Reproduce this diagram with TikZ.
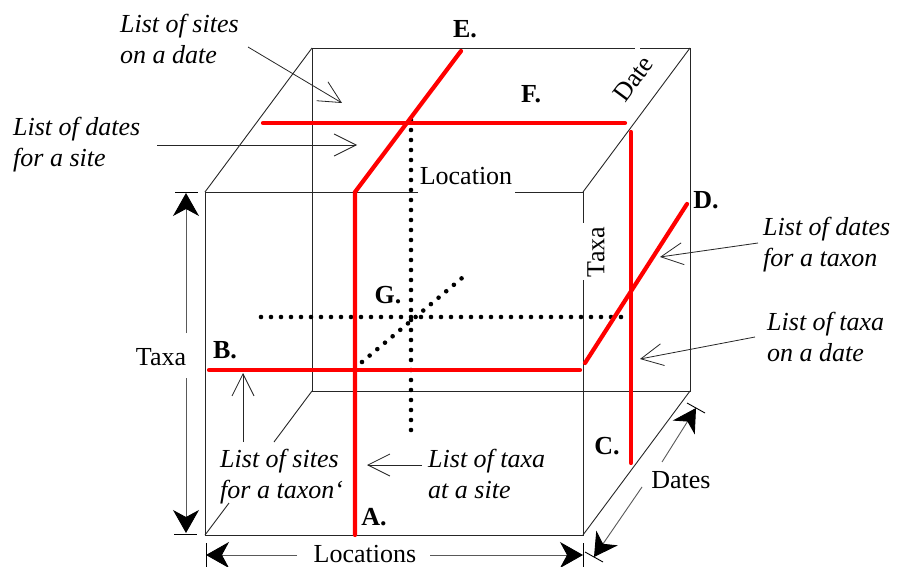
\documentclass[tikz,border=0pt]{standalone}
\usepackage{fontspec}
\setmainfont{Liberation Serif}
\usetikzlibrary{arrows.meta}
\begin{document}
\begin{tikzpicture}[x=1pt,y=-1pt,
  edge/.style={line width=0.9pt, draw=black!85},
  redline/.style={line width=4.2pt, draw=red, line cap=round},
  dotline/.style={line width=4.6pt, dash pattern=on 0pt off 10pt, line cap=round},
  ann/.style={line width=0.8pt, draw=black!85, -{Straight Barb[length=22pt,width=22pt]}},
  dim/.style={line width=0.9pt, draw=black!65, -{Stealth[length=23pt,width=26pt,inset=7pt,color=black]}},
  tick/.style={line width=0.9pt, draw=black},
  lbl/.style={font=\fontsize{26}{31}\selectfont\itshape, align=left, anchor=north west, inner sep=0pt},
  tag/.style={font=\fontsize{26}{31}\selectfont\bfseries, inner sep=0pt},
  plain/.style={font=\fontsize{26}{31}\selectfont, inner sep=0pt},
]
\useasboundingbox (0,0) rectangle (897,567);
% cube corners
\coordinate (F1) at (205,192);
\coordinate (F2) at (583,192);
\coordinate (F3) at (583,535);
\coordinate (F4) at (205,535);
\coordinate (B1) at (312,48);
\coordinate (B2) at (690,48);
\coordinate (B3) at (690,391);
\coordinate (B4) at (312,391);
% breaks in edges (under labels)
\coordinate (t1) at (418,192);
\coordinate (t2) at (515,192);
\coordinate (r1) at (583,223);
\coordinate (r2) at (583,280);
\coordinate (d1) at (229,503);
\coordinate (d2) at (274,442);
\coordinate (b1) at (635,48);
\coordinate (b2) at (640,48);
% cube edges
\draw[edge] (t1) -- (F1) -- (F4) -- (F3) -- (r2);
\draw[edge] (t2) -- (F2) -- (r1);
\draw[edge] (b1) -- (B1) -- (B4) -- (B3) -- (B2) -- (b2);
\draw[edge] (F1) -- (B1);
\draw[edge] (F2) -- (B2);
\draw[edge] (F3) -- (B3);
\draw[edge] (F4) -- (d1);
\draw[edge] (d2) -- (B4);
% dotted lines
\coordinate (gv1) at (411,120);
\coordinate (gv2) at (411,438);
\coordinate (gh1) at (261,317);
\coordinate (gh2) at (623,317);
\coordinate (gd1) at (362,362);
\coordinate (gd2) at (462,278);
\draw[dotline] (gv1) -- (gv2);
\draw[dotline] (gh1) -- (gh2);
\draw[dotline] (gd1) -- (gd2);
% red lines
\coordinate (a0) at (355,535);
\coordinate (a1) at (355,192);
\coordinate (e0) at (461,51);
\coordinate (bb0) at (209,370);
\coordinate (bb1) at (580,370);
\coordinate (dd0) at (585,363);
\coordinate (dd1) at (687,204);
\coordinate (ff0) at (263,123);
\coordinate (ff1) at (625,123);
\coordinate (cc0) at (631,132);
\coordinate (cc1) at (631,463);
\draw[redline] (a0) -- (a1) -- (e0);
\draw[redline] (bb0) -- (bb1);
\draw[redline] (dd0) -- (dd1);
\draw[redline] (ff0) -- (ff1);
\draw[redline] (cc0) -- (cc1);
% axis labels on cube
\node[plain] (loc) at (466,176) {Location};
\node[plain, rotate=90] (taxaR) at (596,252) {Taxa};
\node[plain, rotate=53.4] (dateL) at (633,79) {Date};
% letter tags
\node[tag] (E) at (465,29) {E.};
\node[tag] (F) at (531,94) {F.};
\node[tag] (D) at (706,200) {D.};
\node[tag] (G) at (388,295) {G.};
\node[tag] (B) at (225,350) {B.};
\node[tag] (A) at (374,517) {A.};
\node[tag] (C) at (607,446) {C.};
% dimension: Taxa
\draw[tick] (175,192) -- (198,192);
\draw[tick] (174,534) -- (197,534);
\coordinate (tx1) at (186,333);
\coordinate (tx2) at (186,193);
\coordinate (tx3) at (186,378);
\coordinate (tx4) at (186,533);
\draw[dim] (tx1) -- (tx2);
\draw[dim] (tx3) -- (tx4);
\node[plain] (taxaL) at (161,357) {Taxa};
% dimension: Locations
\draw[tick] (206,543) -- (206,567);
\draw[tick] (583,543) -- (583,567);
\coordinate (lo1) at (297,555);
\coordinate (lo2) at (206,555);
\coordinate (lo3) at (430,555);
\coordinate (lo4) at (583,555);
\draw[dim] (lo1) -- (lo2);
\draw[dim] (lo3) -- (lo4);
\node[plain] (locs) at (365,554) {Locations};
% dimension: Dates
\draw[tick] (585,552) -- (603,562);
\draw[tick] (687,403) -- (705,413);
\coordinate (da1) at (642,487);
\coordinate (da2) at (594,557);
\coordinate (da3) at (662,462);
\coordinate (da4) at (696,408);
\draw[dim] (da1) -- (da2);
\draw[dim] (da3) -- (da4);
\node[plain] (dates) at (681,480) {Dates};
% annotation labels
\node[lbl] (n1) at (120,14) {List of sites\\on a date};
\node[lbl] (n2) at (13,117) {List of dates\\for a site};
\node[lbl] (n3) at (763,217) {List of dates\\for a taxon};
\node[lbl] (n4) at (767,312) {List of taxa\\on a date};
\node[lbl] (n5) at (220,449) {List of sites\\for a taxon\symbol{96}};
\node[lbl] (n6) at (428,449) {List of taxa\\at a site};
% annotation arrows
\coordinate (p1a) at (248,47);  \coordinate (p1b) at (342,103);
\coordinate (p2a) at (157,145); \coordinate (p2b) at (357,145);
\coordinate (p3a) at (758,243); \coordinate (p3b) at (660,257);
\coordinate (p4a) at (755,337); \coordinate (p4b) at (640,359);
\coordinate (p5a) at (243,442); \coordinate (p5b) at (243,373);
\coordinate (p6a) at (422,465); \coordinate (p6b) at (367,465);
\draw[ann] (p1a) -- (p1b);
\draw[ann] (p2a) -- (p2b);
\draw[ann] (p3a) -- (p3b);
\draw[ann] (p4a) -- (p4b);
\draw[ann] (p5a) -- (p5b);
\draw[ann] (p6a) -- (p6b);
\end{tikzpicture}
\end{document}
